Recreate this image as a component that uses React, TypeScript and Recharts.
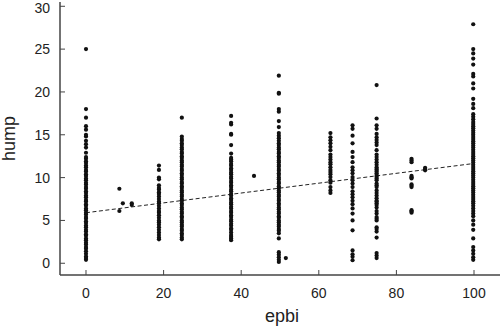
import React from 'react';
import { ScatterChart, Scatter, XAxis, YAxis, ReferenceLine } from 'recharts';

// epbi column positions and the hump values
const epbiColumns = [0, 8.6, 9.5, 11.8, 18.8, 24.7, 37.4, 43.3, 49.7, 51.5, 63, 68.7, 74.9, 83.9, 87.4, 99.8];

const hump0 = [0.4, 0.6, 0.8, 1.1, 1.4, 1.7, 1.9, 2.2, 2.4, 2.7, 2.9, 3.2, 3.4, 3.7, 3.9, 4.2, 4.4, 4.7, 4.9, 5.2, 5.4, 5.7, 5.9, 6.2, 6.4, 6.7, 6.9, 7.2, 7.4, 7.7, 7.9, 8.2, 8.4, 8.7, 8.9, 9.2, 9.4, 9.7, 9.9, 10.2, 10.4, 10.7, 10.9, 11.2, 11.4, 11.7, 11.9, 12.2, 12.4, 12.9, 13.5, 13.9, 14.3, 14.8, 15.0, 15.6, 16.0, 17.0, 18.0, 25.0];
const hump9 = [8.7, 6.1];
const hump10 = [7.0];
const hump12 = [6.8, 7.0];
const hump19 = [2.8, 3.0, 3.3, 3.6, 3.9, 4.2, 4.5, 4.8, 5.0, 5.3, 5.6, 5.9, 6.1, 6.4, 6.7, 7.0, 7.2, 7.5, 7.8, 8.1, 8.3, 8.6, 8.8, 9.1, 9.8, 10.0, 10.9, 11.4];
const hump25 = [2.8, 3.0, 3.3, 3.5, 3.8, 4.0, 4.3, 4.5, 4.8, 5.0, 5.3, 5.5, 5.8, 6.0, 6.3, 6.5, 6.8, 7.0, 7.3, 7.5, 7.8, 8.0, 8.3, 8.5, 8.8, 9.0, 9.3, 9.5, 9.8, 10.0, 10.3, 10.5, 10.8, 11.0, 11.3, 11.5, 11.8, 12.0, 12.3, 12.5, 12.8, 13.0, 13.3, 13.5, 13.8, 14.0, 14.3, 14.5, 14.8, 17.0];
const hump37 = [2.7, 2.9, 3.1, 3.3, 3.6, 3.9, 4.1, 4.4, 4.6, 4.9, 5.1, 5.4, 5.6, 5.9, 6.1, 6.4, 6.6, 6.9, 7.1, 7.4, 7.6, 7.9, 8.1, 8.4, 8.6, 8.9, 9.1, 9.4, 9.6, 9.9, 10.1, 10.4, 10.6, 10.9, 11.1, 11.4, 11.6, 11.9, 12.1, 12.3, 12.8, 13.8, 15.0, 15.1, 16.2, 16.4, 17.2];
const hump44 = [10.2];
const hump50 = [0.15, 0.4, 0.7, 1.0, 1.3, 2.9, 3.5, 3.8, 4.0, 4.3, 4.5, 4.8, 5.0, 5.3, 5.5, 5.8, 6.0, 6.3, 6.5, 6.8, 7.0, 7.3, 7.5, 7.8, 8.0, 8.3, 8.5, 8.8, 9.0, 9.3, 9.5, 9.8, 10.0, 10.3, 10.5, 10.8, 11.0, 11.3, 11.5, 11.8, 12.0, 12.3, 12.5, 12.8, 13.0, 13.3, 13.5, 13.8, 14.0, 14.3, 14.6, 14.9, 15.2, 15.9, 16.6, 17.7, 18.0, 19.8, 19.9, 21.9];
const hump51 = [0.6];
const hump62 = [8.2, 8.5, 8.9, 9.4, 9.7, 10.07, 10.4, 10.65, 10.9, 11.2, 11.55, 11.8, 12.1, 12.4, 12.7, 13.2, 13.6, 14.0, 14.35, 14.7, 15.2];
const hump69 = [0.35, 0.75, 1.05, 1.5, 3.85, 5.0, 5.8, 6.4, 6.9, 7.3, 7.7, 8.05, 8.4, 8.9, 9.3, 9.7, 10.07, 10.5, 10.85, 11.2, 11.8, 12.4, 13.0, 14.0, 14.9, 15.7, 16.1];
const hump75 = [0.6, 0.9, 1.2, 3.0, 3.7, 4.0, 4.2, 5.0, 5.2, 5.4, 5.8, 6.1, 6.5, 6.8, 7.0, 7.2, 7.3, 7.6, 7.9, 8.2, 8.5, 8.9, 9.1, 9.3, 9.7, 9.9, 10.1, 10.3, 10.5, 10.7, 10.9, 11.0, 11.2, 11.5, 11.8, 12.1, 12.4, 12.7, 13.2, 13.8, 14.1, 14.4, 14.7, 15.1, 15.7, 16.1, 16.9, 20.8];
const hump84 = [5.9, 6.05, 6.2, 8.9, 9.05, 9.2, 9.9, 10.05, 10.2, 11.8, 12.0, 12.2];
const hump87 = [10.85, 11.0, 11.15];
const hump100 = [0.4, 0.7, 1.1, 1.5, 1.9, 2.9, 3.9, 4.5, 5.0, 5.5, 5.8, 6.1, 6.4, 6.7, 7.0, 7.25, 7.5, 7.75, 8.0, 8.25, 8.5, 8.75, 9.0, 9.25, 9.5, 9.75, 10.0, 10.25, 10.5, 10.75, 11.0, 11.25, 11.5, 11.75, 12.0, 12.25, 12.5, 12.75, 13.0, 13.25, 13.5, 13.75, 14.0, 14.25, 14.5, 14.75, 15.0, 15.25, 15.5, 15.75, 16.0, 16.25, 16.5, 16.8, 17.1, 17.4, 18.1, 18.6, 19.2, 20.4, 21.0, 21.8, 22.1, 23.2, 23.9, 24.5, 25.0, 27.9];

const humpColumns = [hump0, hump9, hump10, hump12, hump19, hump25, hump37, hump44, hump50, hump51, hump62, hump69, hump75, hump84, hump87, hump100];

// fitted line end points
const fitX = [0, 100];
const fitY = [5.9, 11.65];

const xTicks = [0, 20, 40, 60, 80, 100];
const yTicks = [0, 5, 10, 15, 20, 25, 30];

const points = epbiColumns.flatMap((x, i) => humpColumns[i].map(y => ({ x, y })));

const FONT = '"Liberation Sans", Arial, Helvetica, sans-serif';
const AXIS = '#444';

const Dot = (props: any) => <circle cx={props.cx} cy={props.cy} r={2.1} fill="#111" />;

const XTitle = (props: any) => {
  const { x, width } = props.viewBox;
  return (
    <text x={x + width / 2 + 2} y={322} textAnchor="middle" fontSize={18} fontFamily={FONT} fill="#222">
      epbi
    </text>
  );
};

const YTitle = (props: any) => {
  const { y, height } = props.viewBox;
  const cy = y + height / 2;
  return (
    <text x={15} y={cy} transform={`rotate(-90, 15, ${cy})`} textAnchor="middle" fontSize={18} fontFamily={FONT} fill="#222">
      hump
    </text>
  );
};

const App: React.FC = () => {
  return (
    <div style={{ position: 'absolute', left: 0, top: 0, width: 500, height: 327, background: '#fff' }}>
      <ScatterChart width={500} height={327} margin={{ top: 2, right: 0, left: 0, bottom: 0 }}>
        <XAxis
          type="number"
          dataKey="x"
          domain={[-6.7, 106.7]}
          ticks={xTicks}
          height={52}
          tickSize={-5}
          tickMargin={18}
          axisLine={{ stroke: AXIS, strokeWidth: 1.5 }}
          tickLine={{ stroke: AXIS }}
          tick={{ fill: '#222', fontSize: 14, fontFamily: FONT }}
          label={{ content: XTitle }}
        />
        <YAxis
          type="number"
          dataKey="y"
          domain={[-1.37, 30.5]}
          ticks={yTicks}
          width={60}
          tickSize={-5}
          tickMargin={15}
          axisLine={{ stroke: AXIS, strokeWidth: 1.5 }}
          tickLine={{ stroke: AXIS }}
          tick={{ fill: '#222', fontSize: 14, fontFamily: FONT }}
          label={{ content: YTitle }}
        />
        <Scatter data={points} shape={Dot} isAnimationActive={false} />
        <ReferenceLine
          segment={[{ x: fitX[0], y: fitY[0] }, { x: fitX[1], y: fitY[1] }]}
          stroke="#222"
          strokeWidth={1}
          strokeDasharray="4 2.5"
        />
      </ScatterChart>
    </div>
  );
};

export default App;
